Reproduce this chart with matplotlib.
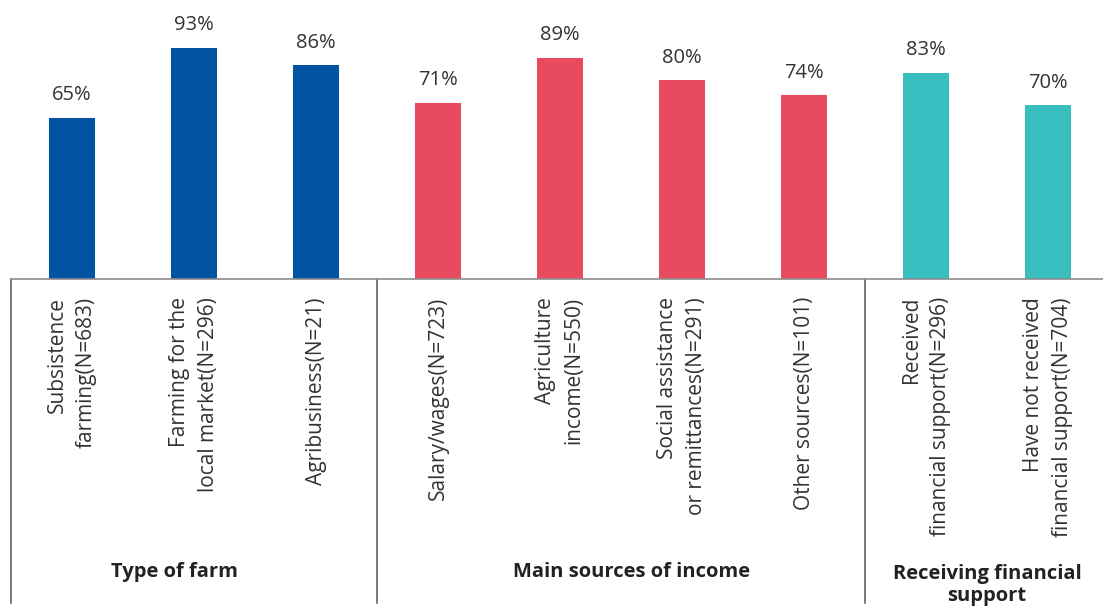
import matplotlib.pyplot as plt
from matplotlib import transforms

plt.rcParams['font.family'] = ['Open Sans', 'DejaVu Sans']

categories = [
    "Subsistence\nfarming(N=683)",
    "Farming for the\nlocal market(N=296)",
    "Agribusiness(N=21)",
    "Salary/wages(N=723)",
    "Agriculture\nincome(N=550)",
    "Social assistance\nor remittances(N=291)",
    "Other sources(N=101)",
    "Received\nfinancial support(N=296)",
    "Have not received\nfinancial support(N=704)",
]
values = [65, 93, 86, 71, 89, 80, 74, 83, 70]
groups = ["Type of farm", "Main sources of income", "Receiving financial\nsupport"]
group_sizes = [3, 4, 2]
group_colors = ["#0054A2", "#E94B5E", "#39BEC0"]

colors = []
for c, n in zip(group_colors, group_sizes):
    colors += [c] * n

fig = plt.figure(figsize=(11.03, 6.08), dpi=100)
ax = fig.add_axes([11 / 1103, 329 / 608, 1092 / 1103, 279 / 608])

x = list(range(len(values)))
ax.bar(x, values, width=0.377, color=colors)
for xi, v in zip(x, values):
    ax.annotate(f"{v}%", (xi, v), xytext=(0, 9), textcoords="offset points",
                ha="center", va="bottom", fontsize=14.5, color="#333333")

ax.set_xlim(-0.5, 8.45)
ax.set_ylim(0, 112.3)
ax.set_yticks([])
for s in ["top", "right", "left"]:
    ax.spines[s].set_visible(False)
ax.spines["bottom"].set_color("#8c8c8c")
ax.spines["bottom"].set_linewidth(1.2)

ax.set_xticks(x)
ax.set_xticklabels(categories, rotation=90, fontsize=15, color="#333333",
                   va="top", ha="center", linespacing=1.45)
for lbl in ax.get_xticklabels():
    lbl.set_multialignment("right")
ax.tick_params(axis="x", length=0, pad=13)

# group separators and group titles below the category labels
trans = transforms.blended_transform_factory(ax.transData, ax.transAxes)
edges = [-0.5]
for n in group_sizes:
    edges.append(edges[-1] + n)
for e in edges[:-1]:
    ax.plot([e, e], [0, -1.16], transform=trans, color="#555555",
            linewidth=1.1, clip_on=False)

group_x = [0.84, 4.59, 7.5]
for gx, g in zip(group_x, groups):
    gy = -1.05 - 0.047 * g.count("\n")
    ax.text(gx, gy, g, transform=trans, ha="center", va="center",
            fontsize=14.5, fontweight="bold", color="#222222", linespacing=1.15,
            clip_on=False)

plt.savefig("out.png", dpi=100)
